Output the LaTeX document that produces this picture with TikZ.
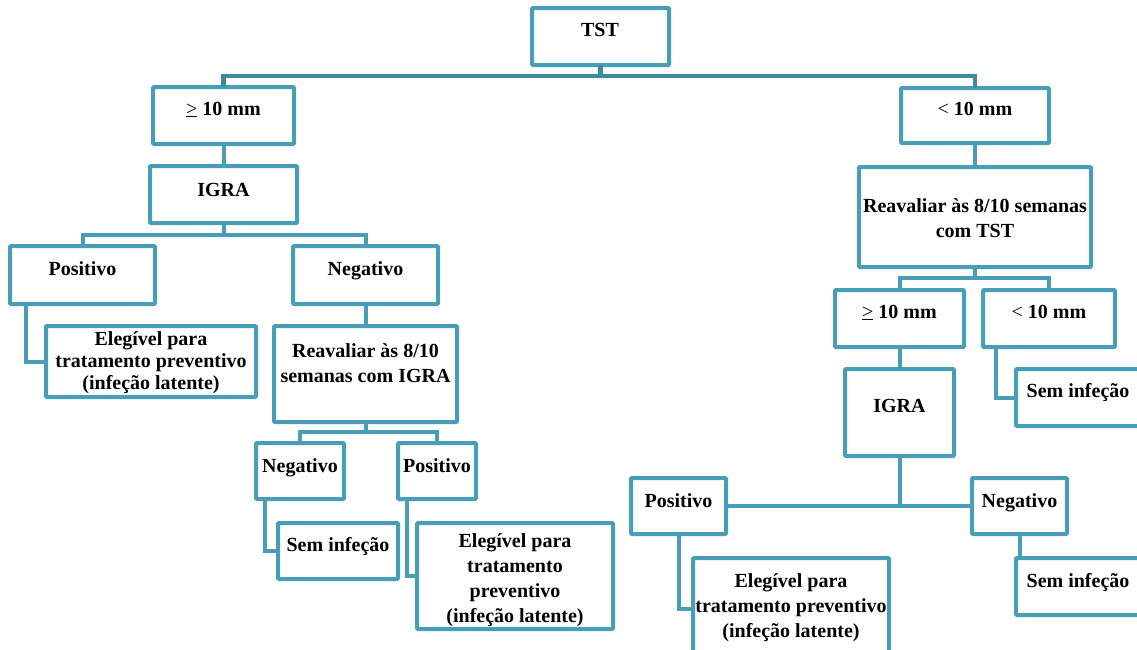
\documentclass[tikz,border=0pt]{standalone}
\usepackage{fontspec}
\setmainfont{Liberation Serif}
\definecolor{boxc}{RGB}{72,158,182}
\definecolor{linec}{RGB}{62,138,158}
\tikzset{
  x=1pt,y=-1pt,
  box/.style={draw=boxc,line width=4pt,inner sep=0pt,outer sep=0pt,rectangle,rounded corners=1pt},
  lbl/.style={font=\fontsize{20}{25}\selectfont\bfseries,inner sep=0pt,outer sep=0pt,anchor=base,align=center},
  conn/.style={draw=boxc,line width=4pt},
  topconn/.style={draw=linec,line width=4.5pt}
}
\newcommand\mkbox[5]{\node[box,minimum width={#4pt-#2pt},minimum height={#5pt-#3pt}] (#1) at ({(#2+#4)/2},{(#3+#5)/2}) {};}
\newcommand\mygeq{{\mdseries\underline{>}}}
\newcommand\mylt{{\mdseries <}}
\begin{document}
\begin{tikzpicture}
\useasboundingbox (0,0) rectangle (1137,649);
\clip (0,0) rectangle (1137,649);
% boxes
\mkbox{tst}{532}{8}{669}{65}
\mkbox{geL}{153}{87}{294}{144}
\mkbox{igraL}{150}{166}{297}{223}
\mkbox{posL}{10}{246}{155}{304}
\mkbox{negL}{293}{246}{438}{304}
\mkbox{elL}{46}{326}{256}{397}
\mkbox{reavL}{274}{326}{457}{422}
\mkbox{negL2}{256}{443}{344}{499}
\mkbox{posL2}{398}{443}{476}{499}
\mkbox{semL}{278}{523}{398}{579}
\mkbox{elL2}{417}{523}{613}{629}
\mkbox{ltR}{901}{88}{1049}{143}
\mkbox{reavR}{859}{167}{1091}{267}
\mkbox{geR2}{835}{290}{964}{347}
\mkbox{ltR2}{983}{290}{1115}{347}
\mkbox{semR1}{1016}{369}{1140}{426}
\mkbox{igraR}{845}{369}{954}{456}
\mkbox{posR}{631}{478}{726}{534}
\mkbox{negR}{972}{478}{1067}{534}
\mkbox{elR}{693}{558}{889}{660}
\mkbox{semR2}{1016}{558}{1140}{615}
% connectors
\draw[topconn] (tst.south) -- ++(0,11) -| (geL.north);
\draw[topconn] (tst.south) -- ++(0,11) -| (ltR.north);
\draw[conn] (geL.south) -- (igraL.north);
\draw[conn] (igraL.south) -- ++(0,12) -| (posL.north);
\draw[conn] (igraL.south) -- ++(0,12) -| (negL.north);
\draw[conn] (posL.south west) ++(16,0) |- (elL.west);
\draw[conn] (negL.south) -- (reavL.north);
\draw[conn] (reavL.south) -- ++(0,10) -| (negL2.north);
\draw[conn] (reavL.south) -- ++(0,10) -| (posL2.north);
\draw[conn] (negL2.south west) ++(9,0) |- (semL.west);
\draw[conn] (posL2.south west) ++(9,0) |- (elL2.west);
\draw[conn] (ltR.south) -- (reavR.north);
\draw[conn] (reavR.south) -- ++(0,11) -| (geR2.north);
\draw[conn] (reavR.south) -- ++(0,11) -| (ltR2.north);
\draw[conn] (ltR2.south west) ++(13,0) |- (semR1.west);
\draw[conn] (geR2.south) -- (igraR.north);
\draw[conn] (igraR.south) -- (igraR.south |- posR.east);
\draw[conn] (posR.east) -- (negR.west);
\draw[conn] (posR.south) |- (elR.west);
\draw[conn] (negR.south) -- (negR.south |- semR2.north);
% labels (anchor base = baseline of the last line)
\node[lbl] (tTst) at (600,36) {TST};
\node[lbl] (tGeL) at (223.5,115) {\mygeq\ 10 mm};
\node[lbl] (tIgraL) at (223.5,196) {IGRA};
\node[lbl] (tPosL) at (82.5,275) {Positivo};
\node[lbl] (tNegL) at (365.5,275) {Negativo};
\node[lbl,font=\fontsize{20}{22}\selectfont\bfseries] (tElL) at (151,389) {Elegível para\\tratamento preventivo\\(infeção latente)};
\node[lbl] (tReavL) at (365.5,382) {Reavaliar às 8/10\\semanas com IGRA};
\node[lbl] (tNegL2) at (300,472) {Negativo};
\node[lbl] (tPosL2) at (437,472) {Positivo};
\node[lbl] (tSemL) at (338,551) {Sem infeção};
\node[lbl] (tElL2) at (515,622) {Elegível para\\tratamento\\preventivo\\(infeção latente)};
\node[lbl] (tLtR) at (975,115) {\mylt\ 10 mm};
\node[lbl] (tReavR) at (975,237) {Reavaliar às 8/10 semanas\\com TST};
\node[lbl] (tGeR2) at (899.5,318) {\mygeq\ 10 mm};
\node[lbl] (tLtR2) at (1049,318) {\mylt\ 10 mm};
\node[lbl] (tSemR1) at (1078,397) {Sem infeção};
\node[lbl] (tIgraR) at (899.5,412) {IGRA};
\node[lbl] (tPosR) at (678.5,507) {Positivo};
\node[lbl] (tNegR) at (1019.5,507) {Negativo};
\node[lbl] (tElR) at (791,637) {Elegível para\\tratamento preventivo\\(infeção latente)};
\node[lbl] (tSemR2) at (1078,587) {Sem infeção};
\end{tikzpicture}
\end{document}
